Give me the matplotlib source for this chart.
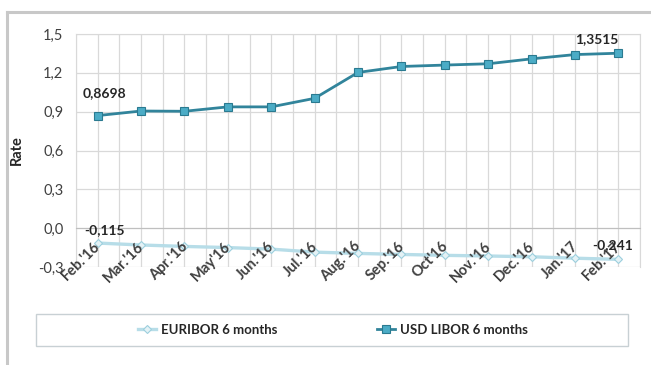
import matplotlib
matplotlib.use("Agg")
import matplotlib.pyplot as plt
from matplotlib.lines import Line2D
from matplotlib.patches import Rectangle
from matplotlib.ticker import FixedLocator, FuncFormatter, NullFormatter
import numpy as np

months = ["Feb.'16", "Mar.'16", "Apr.'16", "May'16", "Jun.'16", "Jul.'16", "Aug.'16",
          "Sep.'16", "Oct'16", "Nov.'16", "Dec.'16", "Jan.'17", "Feb.'17"]
euribor = [-0.115, -0.130, -0.141, -0.150, -0.162, -0.185, -0.195,
           -0.203, -0.210, -0.215, -0.221, -0.232, -0.241]
usd_libor = [0.8698, 0.905, 0.903, 0.937, 0.937, 1.003, 1.203,
             1.249, 1.260, 1.270, 1.308, 1.341, 1.3515]
y_ticks = [-0.3, 0.0, 0.3, 0.6, 0.9, 1.2, 1.5]

plt.rcParams['font.family'] = ['Lato', 'DejaVu Sans']

W, H = 651, 365
fig = plt.figure(figsize=(W / 100, H / 100), dpi=100)
ax = fig.add_axes([76 / W, 1 - 267 / H, (640 - 76) / W, (267 - 34) / H])
grid_c = "#d9d9d9"
for s in ax.spines.values():
    s.set_color(grid_c)
ax.spines["bottom"].set_position(("data", 0))
ax.spines["bottom"].set_color("#bfbfbf")

x = np.arange(len(months))

ax.plot(x, euribor, color="#b7dde8", lw=2.4, marker="D", ms=4.5,
        mfc="#e4f2f6", mec="#9ccfdd", mew=0.8, label="EURIBOR 6 months", zorder=3)
ax.plot(x, usd_libor, color="#31849b", lw=2.0, marker="s", ms=5.5,
        mfc="#4bacc6", mec="#2a7a90", mew=0.8, label="USD LIBOR 6 months", zorder=4)

ax.set_xlim(-0.5, len(months) - 0.5)
ax.set_ylim(-0.3, 1.5)
ax.yaxis.set_major_locator(FixedLocator(y_ticks))
ax.yaxis.set_major_formatter(FuncFormatter(lambda v, p: f"{v:.1f}".replace(".", ",").replace("-0,0", "0,0")))
ax.set_xticks(x)
ax.set_xticks(np.arange(-0.5, len(months), 1.0), minor=True)
ax.xaxis.set_major_formatter(NullFormatter())
ax.tick_params(axis="x", which="both", length=0)
ax.tick_params(axis="y", length=0, labelsize=10.5, labelcolor="#404040", pad=9)
ax.grid(True, which="both", axis="x", color=grid_c, lw=0.9)
ax.grid(True, which="major", axis="y", color=grid_c, lw=0.9)
ax.set_axisbelow(True)
ax.set_ylabel("Rate", fontsize=10.5, fontweight="bold", color="#262626", labelpad=10)

# category labels drawn above the lines (as in the reference)
for i, m in enumerate(months):
    ax.annotate(m, (i, 0), xytext=(-3, -8), textcoords="offset points",
                rotation=45, rotation_mode="anchor", ha="right", va="top",
                fontsize=10.5, fontweight="bold", color="#404040", zorder=6,
                annotation_clip=False)

# data labels
lab_kw = dict(fontsize=10, fontweight="bold", color="#262626", zorder=7)
ax.annotate("0,8698", (0, usd_libor[0]), xytext=(-11, 12), textcoords="offset points", ha="left", va="bottom", **lab_kw)
ax.annotate("1,3515", (12, usd_libor[-1]), xytext=(0, 6), textcoords="offset points", ha="right", va="bottom", **lab_kw)
ax.annotate("-0,115", (0, euribor[0]), xytext=(-10, 5), textcoords="offset points", ha="left", va="bottom", **lab_kw)
ax.annotate("-0,241", (12, euribor[-1]), xytext=(-19, 6), textcoords="offset points", ha="left", va="bottom", **lab_kw)

# outer frame
fig.add_artist(Line2D([7 / W, 1], [1 - 12 / H, 1 - 12 / H], color="#c8c8c8", lw=2.2))
fig.add_artist(Line2D([7 / W, 7 / W], [0, 1 - 12 / H], color="#c8c8c8", lw=2.2))

# legend box
fig.add_artist(Rectangle((36 / W, 1 - 346 / H), (628 - 36) / W, 32 / H,
                         fill=False, ec="#c8d0d4", lw=1.0))
leg = fig.legend(loc="center", bbox_to_anchor=(333 / W, 1 - 330 / H), ncol=2, frameon=False,
                 prop=dict(family="Lato", size=9.5, weight="bold"), columnspacing=7.5,
                 handlelength=1.4, handletextpad=0.4)
for t in leg.get_texts():
    t.set_color("#262626")

fig.savefig("out.png", dpi=100)
